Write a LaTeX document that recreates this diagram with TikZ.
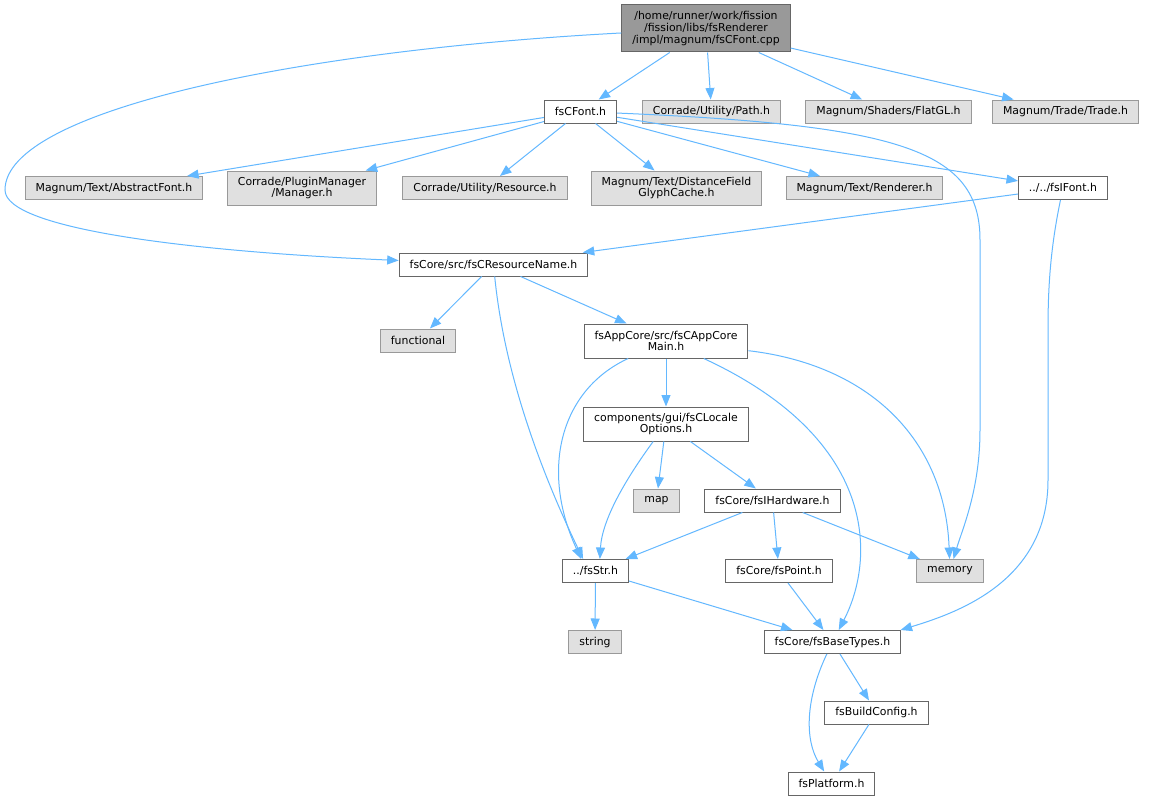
\documentclass[tikz,border=0pt]{standalone}
\usepackage{fontspec}
\setmainfont{DejaVu Sans}
\usetikzlibrary{arrows.meta}
\definecolor{edgeblue}{HTML}{63B8FF}
\definecolor{boxgray}{HTML}{E0E0E0}
\definecolor{rootgray}{HTML}{999999}
\definecolor{linegray}{HTML}{666666}
\tikzset{
  file/.style={draw=linegray,fill=white,line width=1pt,minimum height=23pt,inner xsep=10.5pt,inner ysep=2pt,align=center,font=\fontsize{10.9}{11.7}\selectfont},
  sysfile/.style={file,draw=rootgray,fill=boxgray},
  rootfile/.style={file,fill=rootgray},
  dep/.style={draw=edgeblue,line width=1pt,-{Triangle[length=11.5pt,width=9pt]}}
}
\begin{document}
\begin{tikzpicture}[x=1pt,y=-1pt]
  \fill[white] (0,0) rectangle (1149,800);
  \node[rootfile,minimum height=47pt] (cpp) at (706,28.5) {/home/runner/work/fission\\/fission/libs/fsRenderer\\/impl/magnum/fsCFont.cpp};
  \node[file] (cfont) at (580.5,111.5) {fsCFont.h};
  \node[sysfile] (path) at (711.5,111.5) {Corrade/Utility/Path.h};
  \node[sysfile] (flatgl) at (888.5,111.5) {Magnum/Shaders/FlatGL.h};
  \node[sysfile] (trade) at (1065.5,111.5) {Magnum/Trade/Trade.h};
  \node[sysfile] (absfont) at (114,188) {Magnum/Text/AbstractFont.h};
  \node[sysfile,minimum height=34pt] (manager) at (302,188) {Corrade/PluginManager\\/Manager.h};
  \node[sysfile] (resource) at (485,188) {Corrade/Utility/Resource.h};
  \node[sysfile,minimum height=34pt] (glyph) at (676.5,188) {Magnum/Text/DistanceField\\GlyphCache.h};
  \node[sysfile] (renderer) at (864.5,188) {Magnum/Text/Renderer.h};
  \node[file] (ifont) at (1063,188) {../../fsIFont.h};
  \node[file] (resname) at (493.5,264.5) {fsCore/src/fsCResourceName.h};
  \node[sysfile] (functional) at (418,340.5) {functional};
  \node[file,minimum height=34pt] (appcore) at (666,341) {fsAppCore/src/fsCAppCore\\Main.h};
  \node[file,minimum height=34pt] (locale) at (666,424) {components/gui/fsCLocale\\Options.h};
  \node[sysfile] (map) at (656.5,500.5) {map};
  \node[file] (hardware) at (772.5,500.5) {fsCore/fsIHardware.h};
  \node[file] (str) at (595.5,571) {../fsStr.h};
  \node[file] (point) at (779,571) {fsCore/fsPoint.h};
  \node[sysfile] (memory) at (950,571) {memory};
  \node[sysfile] (string) at (595,642) {string};
  \node[file] (basetypes) at (832.5,642) {fsCore/fsBaseTypes.h};
  \node[file] (buildcfg) at (876.5,712.5) {fsBuildConfig.h};
  \node[file] (platform) at (831.5,783.5) {fsPlatform.h};
  \draw[dep] (cpp) -- (cfont);
  \draw[dep] (cpp) -- (path);
  \draw[dep] (cpp) -- (flatgl);
  \draw[dep] (cpp) -- (trade);
  \draw[dep] (cpp) .. controls (300,50) and (5,110) .. (5,190) .. controls (5,230) and (200,252) .. (resname);
  \draw[dep] (cfont) -- (absfont);
  \draw[dep] (cfont) -- (manager);
  \draw[dep] (cfont) -- (resource);
  \draw[dep] (cfont) -- (glyph);
  \draw[dep] (cfont) -- (renderer);
  \draw[dep] (cfont) -- (ifont);
  \draw[dep] (cfont) .. controls (900,125) and (980,150) .. (980,240) -- (980,430) .. controls (980,490) and (962,530) .. (memory);
  \draw[dep] (ifont) -- (resname);
  \draw[dep] (ifont) .. controls (1050,250) and (1048,290) .. (1048,330) -- (1048,480) .. controls (1048,580) and (960,612) .. (basetypes.10);
  \draw[dep] (resname) -- (functional);
  \draw[dep] (resname) -- (appcore);
  \draw[dep] (resname) .. controls (505,380) and (545,480) .. (str.136);
  \draw[dep] (appcore) -- (locale);
  \draw[dep] (appcore) .. controls (560,390) and (540,470) .. (str.140);
  \draw[dep] (appcore) .. controls (880,440) and (875,560) .. (basetypes);
  \draw[dep] (appcore) .. controls (870,365) and (945,440) .. (memory);
  \draw[dep] (locale) -- (map);
  \draw[dep] (locale) -- (hardware);
  \draw[dep] (locale) .. controls (625,480) and (602,520) .. (str.70);
  \draw[dep] (hardware) -- (str);
  \draw[dep] (hardware) -- (point);
  \draw[dep] (hardware) -- (memory);
  \draw[dep] (str) -- (string);
  \draw[dep] (str) -- (basetypes);
  \draw[dep] (point) -- (basetypes);
  \draw[dep] (basetypes) -- (buildcfg);
  \draw[dep] (basetypes) .. controls (805,700) and (805,740) .. (platform);
  \draw[dep] (buildcfg) -- (platform);
\end{tikzpicture}
\end{document}
